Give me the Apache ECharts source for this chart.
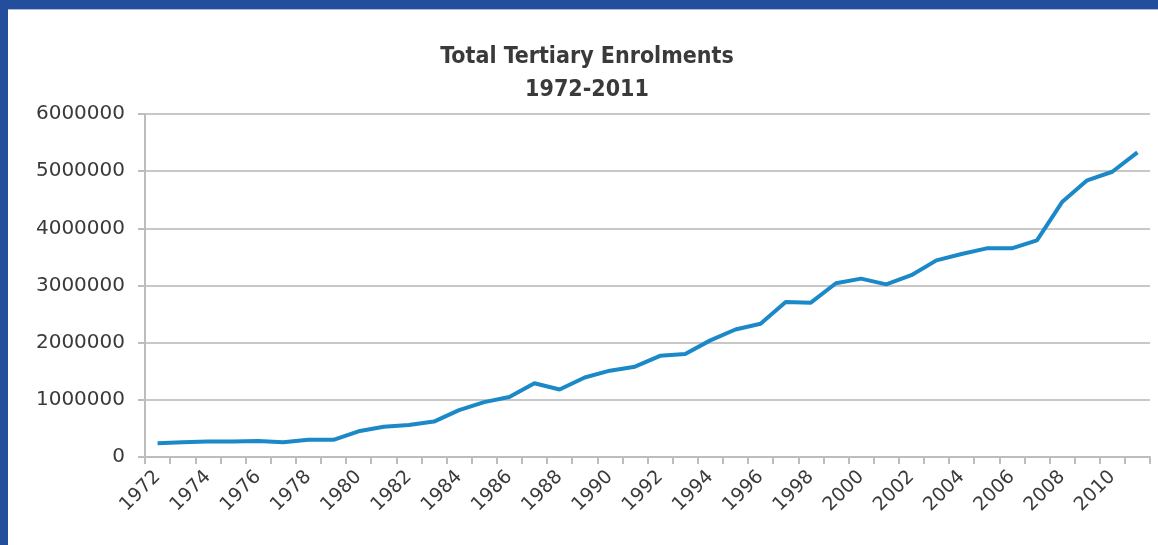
<!DOCTYPE html>
<html>
<head>
<meta charset="utf-8">
<script src="https://cdn.jsdelivr.net/npm/echarts@6/dist/echarts.min.js"></script>
<style>
html,body{margin:0;padding:0;background:#fff;}
#frame{position:absolute;left:0;top:0;width:1158px;height:545px;background:#234e9b;}
#inner{position:absolute;left:8px;top:9px;width:1150px;height:536px;background:#fff;border-top:1px solid #a9bde0;box-sizing:border-box;}
#chart{position:absolute;left:0;top:0;width:1158px;height:545px;}
</style>
</head>
<body>
<div id="frame"><div id="inner"></div></div>
<div id="chart"></div>
<script>
const years = ['1972','1973','1974','1975','1976','1977','1978','1979','1980','1981',
  '1982','1983','1984','1985','1986','1987','1988','1989','1990','1991',
  '1992','1993','1994','1995','1996','1997','1998','1999','2000','2001',
  '2002','2003','2004','2005','2006','2007','2008','2009','2010','2011'];
const enrolments = [240000,260000,270000,270000,280000,260000,300000,300000,450000,530000,
  560000,620000,820000,960000,1050000,1290000,1180000,1390000,1510000,1580000,
  1770000,1800000,2040000,2230000,2330000,2710000,2700000,3040000,3120000,3020000,
  3180000,3440000,3550000,3650000,3650000,3790000,4460000,4840000,4990000,5330000];
const yTicks = {min:0, max:6000000, interval:1000000};

const chart = echarts.init(document.getElementById('chart'), null, {renderer:'canvas'});
chart.setOption({
  backgroundColor: 'transparent',
  animation: false,
  title: {
    text: 'Total Tertiary Enrolments\n1972-2011',
    left: 582, top: 36, textAlign: 'center',
    textStyle: {fontFamily: 'Liberation Sans Narrow, DejaVu Sans Condensed, sans-serif', fontWeight: 'bold', fontSize: 23, color: '#3a3a3a', lineHeight: 33}
  },
  grid: {left: 145, right: 8, top: 114, bottom: 88, containLabel: false},
  xAxis: {
    type: 'category', data: years, boundaryGap: true,
    axisLine: {lineStyle: {color: '#bdbdbd', width: 2}},
    axisTick: {show: true, interval: 0, length: 7, lineStyle: {color: '#bdbdbd', width: 2}},
    axisLabel: {interval: 1, rotate: 45, margin: 17, fontSize: 19, color: '#3a3a3a', fontFamily: 'DejaVu Sans, sans-serif'},
    splitLine: {show: false}
  },
  yAxis: {
    type: 'value', min: yTicks.min, max: yTicks.max, interval: yTicks.interval,
    axisLine: {show: true, lineStyle: {color: '#bdbdbd', width: 2}},
    axisTick: {show: true, length: 7, lineStyle: {color: '#bdbdbd', width: 2}},
    axisLabel: {margin: 20, fontSize: 20, color: '#3a3a3a', fontFamily: 'DejaVu Sans, sans-serif',
      formatter: function (v) { return String(v); }},
    splitLine: {show: true, lineStyle: {color: '#c8c8c8', width: 2}}
  },
  series: [{
    type: 'line', data: enrolments, symbol: 'none', smooth: false,
    lineStyle: {color: '#1b88c8', width: 4}
  }]
});
</script>
</body>
</html>
